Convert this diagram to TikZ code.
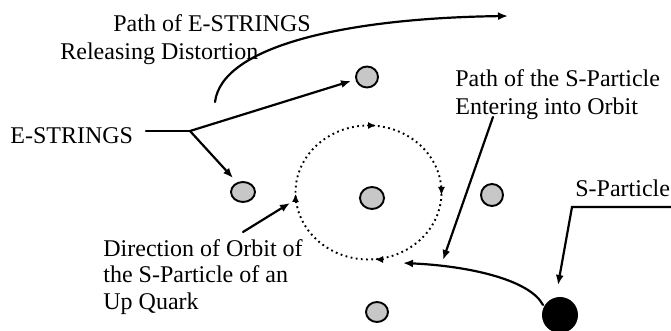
\documentclass[tikz,border=0pt]{standalone}
\usepackage{fontspec}
\setmainfont{Liberation Serif}
\usetikzlibrary{arrows.meta,shapes.geometric}
\begin{document}
\begin{tikzpicture}[x=0.5pt,y=-0.5pt,
  lbl/.style={inner sep=0pt,anchor=base west,font=\fontsize{12pt}{13.75pt}\selectfont},
  particle/.style={ellipse,draw=black,line width=0.95pt,fill=black!22,inner sep=0pt},
  conn/.style={line width=1.1pt,line cap=round},
  tip/.style={-{Latex[length=5pt,width=4pt]}},
  orbit/.style={line width=0.95pt,dash pattern=on 0.9pt off 1.7pt},
  orbtip/.style={-{Latex[length=4pt,width=3.6pt]},line width=0.8pt}]
\useasboundingbox (0,0) rectangle (671,331);
% particles
\node[particle,minimum width=11pt,minimum height=10.5pt] (pTop) at (367,77) {};
\node[particle,minimum width=12pt,minimum height=10pt] (pLeft) at (243,192) {};
\node[particle,minimum width=12pt,minimum height=11pt] (pCenter) at (372,198) {};
\node[particle,minimum width=11pt,minimum height=11pt] (pRight) at (492,195) {};
\node[particle,minimum width=11pt,minimum height=10pt] (pBottom) at (377,312) {};
\node[circle,fill=black,minimum size=18pt,inner sep=0pt] (sPart) at (560,315) {};
% texts
\node[lbl] (t1) at (113,32) {Path of E-STRINGS};
\node[lbl] (t2) at (60,60) {Releasing Distortion};
\node[lbl] (estr) at (10,144) {E-STRINGS};
\node[lbl] (ps1) at (455,87) {Path of the S-Particle};
\node[lbl] (ps2) at (455,115) {Entering into Orbit};
\node[lbl] (sp) at (575,197) {S-Particle};
\node[lbl] (d1) at (103,257) {Direction of Orbit of};
\node[lbl] (d2) at (103,283) {the S-Particle of an};
\node[lbl] (d3) at (103,310) {Up Quark};
% coordinates
\coordinate (ls) at (146,131);
\coordinate (br) at (190,131);
\coordinate (upEnd) at (351,81);
\coordinate (dnEnd) at (233,178);
\coordinate (esStart) at (215,102);
\coordinate (esEnd) at (508,16);
\coordinate (psStart) at (493,117);
\coordinate (psEnd) at (443,260);
\coordinate (spR) at (671,207);
\coordinate (spK) at (572,207);
\coordinate (spEnd) at (558,285);
\coordinate (sStart) at (543,305);
\coordinate (sEnd) at (403,263);
\coordinate (dStart) at (243,232);
\coordinate (dEnd) at (290,203);
\coordinate (oc) at (368.5,192.5);
% E-STRINGS connectors
\draw[conn] (ls) -- (br);
\draw[conn,tip] (br) -- (upEnd);
\draw[conn,tip] (br) -- (dnEnd);
\draw[conn,tip] (esStart) .. controls (222,45) and (350,18) .. (esEnd);
% orbit
\draw[orbit] (oc) ellipse [x radius=36.5pt,y radius=33.5pt];
\draw[orbtip] (367,125.5) -- (376,125.5);
\draw[orbtip] (441.5,186) -- (441.5,195);
\draw[orbtip] (384,259.5) -- (375,259.5);
\draw[orbtip] (295.5,203) -- (295.5,194);
% S-Particle connectors
\draw[conn,tip] (psStart) -- (psEnd);
\draw[conn,tip] (spR) -- (spK) -- (spEnd);
\draw[conn,tip] (sStart) .. controls (530,280) and (470,266) .. (sEnd);
\draw[conn,tip] (dStart) -- (dEnd);
\end{tikzpicture}
\end{document}
